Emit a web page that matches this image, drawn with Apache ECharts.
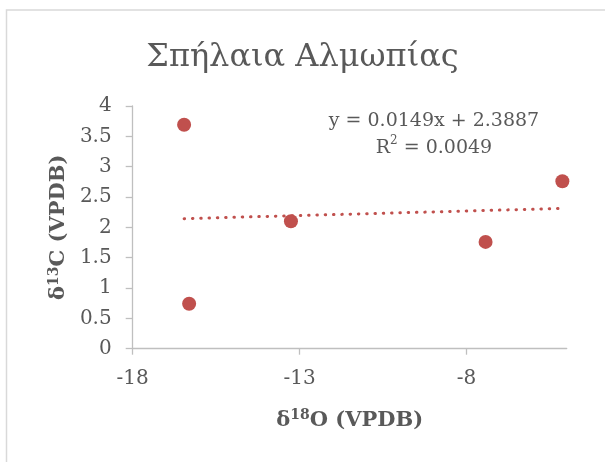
<!DOCTYPE html>
<html>
<head>
<meta charset="utf-8">
<script src="https://cdn.jsdelivr.net/npm/echarts@6/dist/echarts.min.js"></script>
<style>
  html, body { margin: 0; padding: 0; background: #fff; }
  #chart { width: 605px; height: 462px; }
</style>
</head>
<body>
<div id="chart"></div>
<script>
// δ18O / δ13C measurements of the Almopia caves samples
const d18O = [-16.46, -16.31, -13.26, -7.43, -5.13];
const d13C = [3.69, 0.74, 2.10, 1.76, 2.76];

// Linear trendline as given by its equation label
const trendSlope = 0.0149;
const trendIntercept = 2.3887;
const trendR2 = 0.0049;

const xTickValues = [-18, -13, -8];
const yTickLabels = ['0', '0.5', '1', '1.5', '2', '2.5', '3', '3.5', '4'];

const FONT = '"DejaVu Serif", "Liberation Serif", serif';
const TEXT = '#595959';
const AXIS = '#BFBFBF';
const RED = '#C0504D';

const points = d18O.map((x, i) => [x, d13C[i]]);
const xMin = Math.min(...d18O), xMax = Math.max(...d18O);
const trend = [
  [xMin, trendSlope * xMin + trendIntercept],
  [xMax, trendSlope * xMax + trendIntercept]
];

const chart = echarts.init(document.getElementById('chart'), null, { renderer: 'canvas' });
chart.setOption({
  animation: false,
  backgroundColor: '#fff',
  title: [
    {
      text: 'Σπήλαια Αλμωπίας',
      left: 'center', top: 37,
      textStyle: { fontFamily: FONT, fontSize: 32, fontWeight: 'normal', color: TEXT }
    },
    {
      text: 'y = ' + trendSlope + 'x + ' + trendIntercept + '\n{n|R}{s|2}{n| = ' + trendR2.toFixed(4) + '}',
      left: 429, top: 103, textAlign: 'center',
      textStyle: {
        fontFamily: FONT, fontSize: 19, fontWeight: 'normal', color: TEXT, lineHeight: 27, align: 'center',
        rich: {
          n: { fontFamily: FONT, fontSize: 19, color: TEXT, lineHeight: 27 },
          s: { fontFamily: FONT, fontSize: 12, color: TEXT, lineHeight: 27, verticalAlign: 'top', padding: [0, 0, 9, 0] }
        }
      }
    }
  ],
  graphic: [
    {
      type: 'rect', silent: true,
      shape: { x: 6.5, y: 10, width: 640, height: 500 },
      style: { fill: 'none', stroke: '#D9D9D9', lineWidth: 1.5 }
    }
  ],
  grid: { left: 132.7, right: 38.3, top: 106, bottom: 113.3 },
  xAxis: {
    type: 'value', min: -18, max: -5, interval: 5,
    name: '{b|δ}{sup|18}{b|O (VPDB)}',
    nameLocation: 'middle', nameGap: 60,
    nameTextStyle: {
      rich: {
        b: { fontFamily: FONT, fontSize: 21, fontWeight: 'bold', color: TEXT },
        sup: { fontFamily: FONT, fontSize: 14, fontWeight: 'bold', color: TEXT, verticalAlign: 'top', padding: [0, 0, 9, 0] }
      }
    },
    axisLine: { show: true, onZero: false, lineStyle: { color: AXIS, width: 1.3 } },
    axisTick: { show: true, length: 6, customValues: xTickValues, lineStyle: { color: AXIS, width: 1.3 } },
    axisLabel: { customValues: xTickValues, margin: 20, fontFamily: FONT, fontSize: 20, color: TEXT },
    splitLine: { show: false }
  },
  yAxis: {
    type: 'value', min: 0, max: 4, interval: 0.5,
    name: '{b|δ}{sup|13}{b|C (VPDB)}',
    nameLocation: 'middle', nameGap: 62, nameRotate: 90,
    nameTextStyle: {
      rich: {
        b: { fontFamily: FONT, fontSize: 21, fontWeight: 'bold', color: TEXT },
        sup: { fontFamily: FONT, fontSize: 14, fontWeight: 'bold', color: TEXT, verticalAlign: 'top', padding: [0, 0, 9, 0] }
      }
    },
    axisLine: { show: true, lineStyle: { color: AXIS, width: 1.3 } },
    axisTick: { show: true, length: 7, lineStyle: { color: AXIS, width: 1.3 } },
    axisLabel: {
      margin: 21, fontFamily: FONT, fontSize: 20, color: TEXT,
      formatter: (v) => yTickLabels[Math.round(v * 2)]
    },
    splitLine: { show: false }
  },
  series: [
    {
      type: 'line', data: trend, symbol: 'none', silent: true, z: 1,
      lineStyle: { color: RED, width: 3, type: [0.5, 7.8], cap: 'round' }
    },
    {
      type: 'scatter', data: points, symbol: 'circle', symbolSize: 14, z: 2,
      itemStyle: { color: RED, opacity: 1 }
    }
  ]
});
</script>
</body>
</html>
